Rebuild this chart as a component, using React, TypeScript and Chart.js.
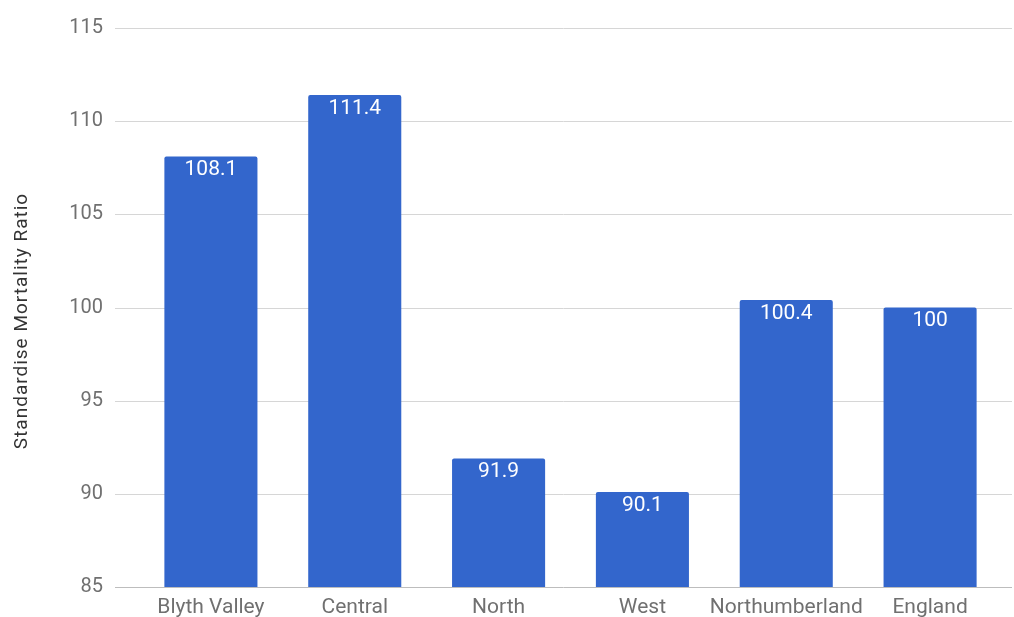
import React, { useEffect, useRef } from "react";
import { Chart, registerables } from "chart.js";

Chart.register(...registerables);

const categories = ["Blyth Valley", "Central", "North", "West", "Northumberland", "England"];
const smrValues = [108.1, 111.4, 91.9, 90.1, 100.4, 100];
const valueLabels = ["108.1", "111.4", "91.9", "90.1", "100.4", "100"];
const yTicks = [85, 90, 95, 100, 105, 110, 115];

const BAR_COLOR = "#3366cc";
const FONT = "Roboto, 'Noto Sans', sans-serif";

// Horizontal grid lines that run a little past the plot on both sides
const gridPlugin = {
  id: "wideGrid",
  beforeDatasetsDraw(chart: any) {
    const { ctx } = chart;
    const y = chart.scales.y;
    ctx.save();
    yTicks.forEach((t) => {
      const py = Math.round(y.getPixelForValue(t)) + 0.5;
      ctx.strokeStyle = t === 85 ? "#bdbdbd" : "#d6d6d6";
      ctx.lineWidth = 1;
      ctx.beginPath();
      ctx.moveTo(115, py);
      ctx.lineTo(1012, py);
      ctx.stroke();
    });
    ctx.restore();
  },
};

// White value labels just inside the top of each bar
const valueLabelPlugin = {
  id: "valueLabels",
  afterDatasetsDraw(chart: any) {
    const { ctx } = chart;
    const meta = chart.getDatasetMeta(0);
    ctx.save();
    ctx.fillStyle = "#ffffff";
    ctx.font = `21px ${FONT}`;
    ctx.textAlign = "center";
    ctx.textBaseline = "top";
    meta.data.forEach((bar: any, i: number) => {
      ctx.fillText(valueLabels[i], bar.x, bar.y + 3);
    });
    ctx.restore();
  },
};

// Rotated axis title on the left edge
const axisTitlePlugin = {
  id: "axisTitle",
  afterDraw(chart: any) {
    const { ctx } = chart;
    ctx.save();
    ctx.translate(22, 321);
    ctx.rotate(-Math.PI / 2);
    ctx.fillStyle = "#333333";
    ctx.font = `19px ${FONT}`;
    (ctx as any).letterSpacing = "1px";
    ctx.textAlign = "center";
    ctx.textBaseline = "middle";
    ctx.fillText("Standardise Mortality Ratio", 0, 0);
    ctx.restore();
  },
};

export default function App() {
  const canvasRef = useRef<HTMLCanvasElement | null>(null);

  useEffect(() => {
    if (!canvasRef.current) return;
    const chart = new Chart(canvasRef.current, {
      type: "bar",
      data: {
        labels: categories,
        datasets: [
          {
            data: smrValues,
            backgroundColor: BAR_COLOR,
            borderRadius: 2,
            borderSkipped: "bottom",
            barPercentage: 0.647,
            categoryPercentage: 1,
          },
        ],
      },
      options: {
        animation: false,
        responsive: false,
        maintainAspectRatio: false,
        layout: { padding: { top: 28, right: 12, left: 0, bottom: 0 } },
        plugins: {
          legend: { display: false },
          tooltip: { enabled: false },
        },
        scales: {
          x: {
            grid: { display: false, drawTicks: false },
            border: { display: false },
            ticks: {
              color: "#707070",
              font: { family: FONT, size: 21 },
              padding: 8,
              maxRotation: 0,
              autoSkip: false,
            },
            afterFit: (s: any) => {
              s.height = 30;
            },
          },
          y: {
            min: 85,
            max: 115,
            grid: { display: false, drawTicks: false },
            border: { display: false },
            afterBuildTicks: (s: any) => {
              s.ticks = yTicks.map((v) => ({ value: v }));
            },
            ticks: {
              color: "#707070",
              font: { family: FONT, size: 20 },
              padding: 36,
            },
            afterFit: (s: any) => {
              s.width = 139;
              s.paddingTop = 0;
              s.paddingBottom = 0;
            },
          },
        },
      },
      plugins: [gridPlugin, valueLabelPlugin, axisTitlePlugin],
    });
    return () => chart.destroy();
  }, []);

  return (
    <div style={{ position: "absolute", left: 0, top: 0, width: 1014, height: 617, background: "#ffffff" }}>
      <canvas ref={canvasRef} width={1014} height={617} />
    </div>
  );
}
